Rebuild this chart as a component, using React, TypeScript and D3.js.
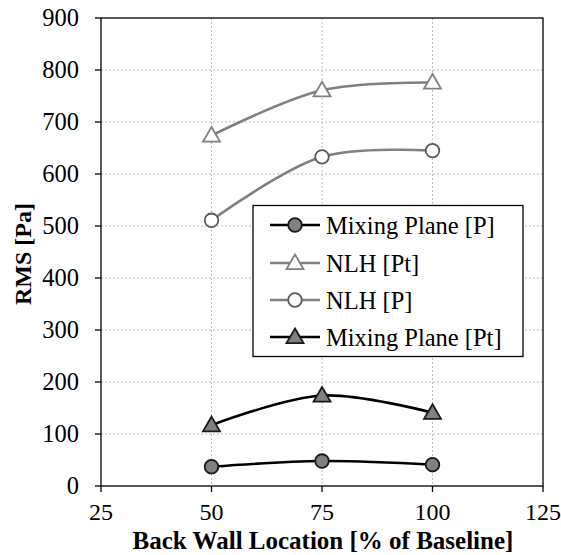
import React from "react";
import * as d3 from "d3";

const xValues = [50, 75, 100];
const mixingPlaneP = [37, 48, 41];
const nlhPt = [674, 761, 776];
const nlhP = [511, 633, 645];
const mixingPlanePt = [117, 174, 141];
const xTicks = [25, 50, 75, 100, 125];
const yTicks = [0, 100, 200, 300, 400, 500, 600, 700, 800, 900];
const legendLabels = ["Mixing Plane [P]", "NLH [Pt]", "NLH [P]", "Mixing Plane [Pt]"];

const series = [
  { name: legendLabels[0], values: mixingPlaneP, line: "#000", fill: "#808080", stroke: "#1a1a1a", marker: "circle" },
  { name: legendLabels[1], values: nlhPt, line: "#808080", fill: "#fff", stroke: "#808080", marker: "triangle" },
  { name: legendLabels[2], values: nlhP, line: "#808080", fill: "#fff", stroke: "#595959", marker: "circle" },
  { name: legendLabels[3], values: mixingPlanePt, line: "#000", fill: "#808080", stroke: "#1a1a1a", marker: "triangle" },
];

const W = 561, H = 555;
const L = 101, R = 543, T = 18, B = 486;
const font = "Liberation Serif, Tinos, Times New Roman, DejaVu Serif, serif";

function Marker({ type, x, y, fill, stroke }: any) {
  if (type === "circle") return <circle cx={x} cy={y} r={6.8} fill={fill} stroke={stroke} strokeWidth={1.8} />;
  const s = 8.5;
  const p = `${x},${y - s} ${x + s},${y + s * 0.72} ${x - s},${y + s * 0.72}`;
  return <polygon points={p} fill={fill} stroke={stroke} strokeWidth={1.8} strokeLinejoin="miter" />;
}

export default function App() {
  const x = d3.scaleLinear().domain([25, 125]).range([L, R]);
  const y = d3.scaleLinear().domain([0, 900]).range([B, T]);
  const line = d3.line<number>().x((_, i) => x(xValues[i])).y(d => y(d)).curve(d3.curveCatmullRom.alpha(0.5));
  const legendRows = [225, 263, 300, 337];
  const ts = { fontFamily: font };
  return (
    <svg width={W} height={H} style={{ position: "absolute", left: 0, top: 0, fontFamily: font }}>
      <rect width={W} height={H} fill="#fff" />
      {yTicks.slice(1, -1).map(t => (
        <line key={"gy" + t} x1={L} x2={R} y1={y(t)} y2={y(t)} stroke="#bfbfbf" strokeWidth={1} strokeDasharray="2,2" />
      ))}
      {xTicks.slice(1, -1).map(t => (
        <line key={"gx" + t} x1={x(t)} x2={x(t)} y1={T} y2={B} stroke="#bfbfbf" strokeWidth={1} strokeDasharray="2,2" />
      ))}
      <rect x={L} y={T} width={R - L} height={B - T} fill="none" stroke="#000" strokeWidth={1.3} />
      {yTicks.map(t => (
        <g key={"yt" + t}>
          <line x1={L - 6} x2={L} y1={y(t)} y2={y(t)} stroke="#000" strokeWidth={1.3} />
          <text x={79} y={y(t) + 8} textAnchor="end" style={ts} fontSize={24.5}>{t}</text>
        </g>
      ))}
      {xTicks.map(t => (
        <g key={"xt" + t}>
          <line x1={x(t)} x2={x(t)} y1={B} y2={B + 6} stroke="#000" strokeWidth={1.3} />
          <text x={x(t)} y={520} textAnchor="middle" style={ts} fontSize={24}>{t}</text>
        </g>
      ))}
      <text x={323} y={549} textAnchor="middle" style={ts} fontSize={25} fontWeight="bold">Back Wall Location [% of Baseline]</text>
      <text transform={`translate(31,254) rotate(-90)`} textAnchor="middle" style={ts} fontSize={24} fontWeight="bold">RMS [Pa]</text>
      {series.map(s => (
        <g key={s.name}>
          <path d={line(s.values) || ""} fill="none" stroke={s.line} strokeWidth={2.6} />
          {s.values.map((v, i) => (
            <Marker key={i} type={s.marker} x={x(xValues[i])} y={y(v)} fill={s.fill} stroke={s.stroke} />
          ))}
        </g>
      ))}
      <rect x={253} y={205.5} width={270} height={151} fill="#fff" stroke="#000" strokeWidth={1.3} />
      {series.map((s, i) => (
        <g key={"lg" + i}>
          <line x1={270} x2={320} y1={legendRows[i]} y2={legendRows[i]} stroke={s.line} strokeWidth={2.6} />
          <Marker type={s.marker} x={295} y={legendRows[i]} fill={s.fill} stroke={s.stroke} />
          <text x={326} y={legendRows[i] + 8.5} style={ts} fontSize={24.5}>{s.name}</text>
        </g>
      ))}
    </svg>
  );
}
